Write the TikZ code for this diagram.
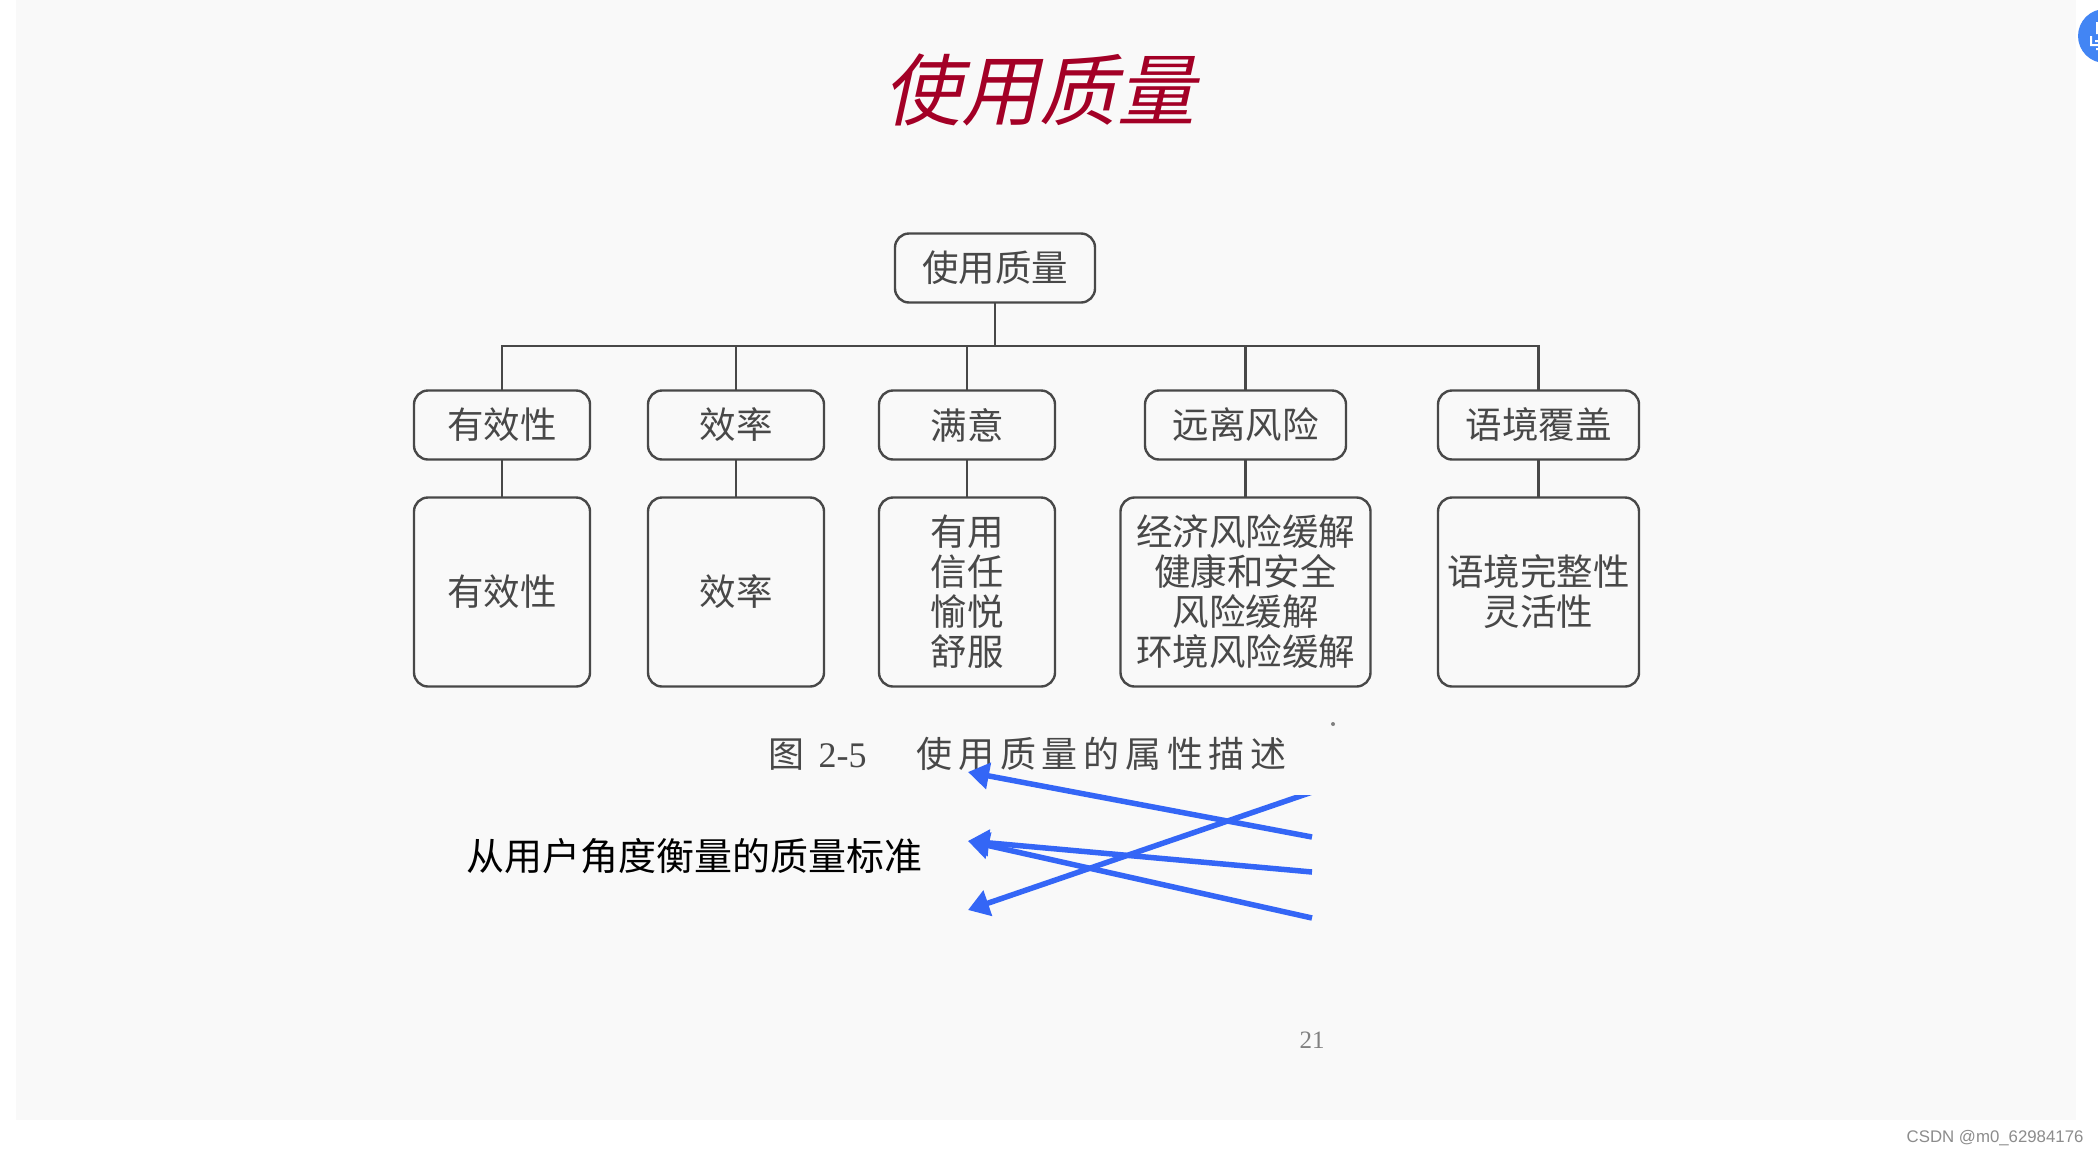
\documentclass[tikz,border=0pt]{standalone}
\usepackage{fontspec}
\usepackage{xcolor}
\setmainfont{Noto Sans CJK SC}
\newfontfamily\titlefont[FakeSlant=0.22]{Noto Sans CJK SC}
\newfontfamily\digitfont{Liberation Serif}
\newfontfamily\markfont{Liberation Sans}
\usetikzlibrary{arrows.meta,positioning}
\definecolor{slidegray}{RGB}{249,249,249}
\definecolor{scanink}{RGB}{72,72,72}
\definecolor{titlered}{RGB}{163,0,38}
\definecolor{penblue}{RGB}{52,102,246}
\definecolor{badgeblue}{RGB}{66,133,244}
\begin{document}
\begin{tikzpicture}[
    x=1pt,y=-1pt,
    node distance=38pt,
    head/.style={rectangle,rounded corners=14pt,draw=scanink,line width=2.4pt,outer sep=0pt,
      minimum height=69pt,align=center,text=scanink,
      font=\fontsize{36.5}{40}\selectfont},
    leaf/.style={head,minimum height=189pt},
    wire/.style={draw=scanink,line width=2.4pt},
    pen/.style={draw=penblue,line width=5.5pt,-{Triangle[length=21pt,width=26pt]}}
  ]
    \clip (0,0) rectangle (2098,1154);
    \fill[white] (0,0) rectangle (2098,1154);
    \fill[slidegray] (16,0) rectangle (2076,1120);
    \fill[badgeblue] (2105,36) circle (27);
    \fill[white] (2090,36) rectangle (2092,46) (2090,44) rectangle (2098,46)
      (2096,22) rectangle (2098,34) (2095,40) rectangle (2098,42) (2096,48) rectangle (2098,50);

    \node[text=titlered,font=\titlefont\fontsize{78}{82}\selectfont] (title) at (1039,90) {使用质量};

    \node[head,minimum width=200pt] (quality) at (995,268) {使用质量};
    \coordinate (bus) at (995,346);
    \node[head,minimum width=176pt] (valid) at (502,425) {有效性};
    \node[head,minimum width=176pt,right=58pt of valid] (speed) {效率};
    \node[head,minimum width=176pt,right=55pt of speed] (satisfy) {满意};
    \node[head,minimum width=201pt,right=90pt of satisfy] (risk) {远离风险};
    \node[head,minimum width=201pt,right=92pt of risk] (context) {语境覆盖};

    \node[leaf,minimum width=176pt,below=of valid] (validsub) {有效性};
    \node[leaf,minimum width=176pt,below=of speed] (speedsub) {效率};
    \node[leaf,minimum width=176pt,below=of satisfy] (satisfysub) {有用\\信任\\愉悦\\舒服};
    \node[leaf,minimum width=250pt,below=of risk] (risksub) {经济风险缓解\\健康和安全\\风险缓解\\环境风险缓解};
    \node[leaf,minimum width=201pt,below=of context] (contextsub) {语境完整性\\灵活性};

    \draw[wire] (quality) -- (bus);
    \foreach \n in {valid,speed,satisfy,risk,context} {
      \draw[wire] (\n) |- (bus);
      \draw[wire] (\n) -- (\n sub);
    }

    \node[anchor=west,text=scanink,font=\fontsize{36}{40}\selectfont] (caption) at (765,754)
      {图\hspace{14pt}{\digitfont 2-5}\hspace{50pt}\addfontfeature{LetterSpace=16}使用质量的属性描述};
    \node[anchor=west,font=\fontsize{38}{42}\selectfont] (standard) at (463,856) {从用户角度衡量的质量标准};
    \node[text=gray,font=\digitfont\fontsize{25}{28}\selectfont] (page) at (1312,1040) {21};
    \node[anchor=east,text=gray!90,font=\markfont\fontsize{16.8}{20}\selectfont] (mark) at (2087,1138) {CSDN @m0\_62984176};
    \fill[gray] (1333,724) circle (2);

    \coordinate (tipa) at (968,772);
    \coordinate (tipb) at (968,841);
    \coordinate (tipc) at (968,910);
    \coordinate (enda) at (1312,837);
    \coordinate (endb) at (1312,872);
    \coordinate (endc) at (1312,918);
    \coordinate (endd) at (1318,790);
    \draw[pen] (enda) -- (tipa);
    \draw[pen] (endb) -- (tipb);
    \draw[pen] (endc) -- (tipb);
    \begin{scope}
      \clip (900,795) rectangle (1400,930);
      \draw[pen] (endd) -- (tipc);
    \end{scope}
\end{tikzpicture}
\end{document}
